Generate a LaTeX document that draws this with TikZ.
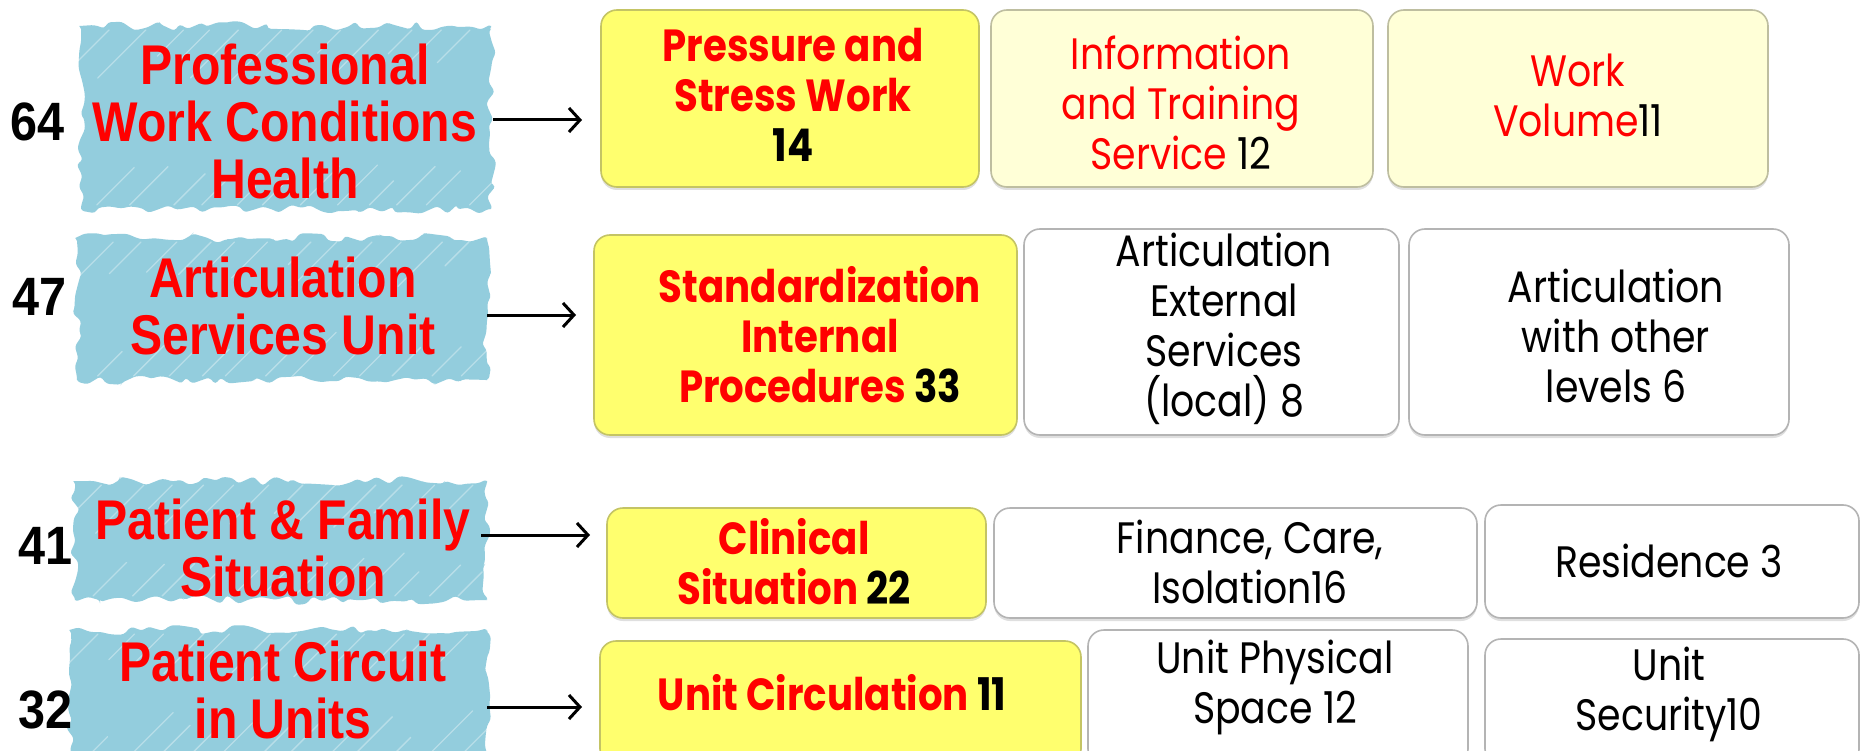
\documentclass[tikz,border=0pt]{standalone}
\usepackage{fontspec}
\usetikzlibrary{arrows.meta,decorations.pathmorphing,shadows}
\newfontfamily\blobfont{Liberation Sans}[FakeStretch=0.86]
\newfontfamily\numfont{Liberation Sans}[FakeStretch=0.9]
\newfontfamily\boxfont{Poppins}[FakeStretch=0.86]
\definecolor{blobblue}{RGB}{147,205,221}
\definecolor{ybright}{RGB}{255,255,110}
\definecolor{yborder}{RGB}{196,196,100}
\definecolor{ylight}{RGB}{255,255,215}
\definecolor{ylborder}{RGB}{190,190,160}
\definecolor{wborder}{RGB}{180,180,180}
\definecolor{txtred}{RGB}{255,0,0}
\newcommand{\blk}[1]{\textcolor{black}{#1}}
\begin{document}
\begin{tikzpicture}[x=1pt,y=-1pt,
  basebox/.style={rectangle, rounded corners=16pt, inner sep=0pt, outer sep=0pt, line width=1.6pt,
     drop shadow={shadow xshift=0pt, shadow yshift=-3pt, opacity=0.25}},
  ybox/.style={basebox, fill=ybright, draw=yborder},
  lybox/.style={basebox, fill=ylight, draw=ylborder},
  wbox/.style={basebox, fill=white, draw=wborder},
  blobtxt/.style={align=center, text=txtred, font=\blobfont\bfseries\fontsize{56}{57}\selectfont, inner sep=0pt},
  numtxt/.style={font=\numfont\bfseries\fontsize{54}{57}\selectfont, inner sep=0pt},
  btxt/.style={align=center, font=\boxfont\fontsize{44}{50}\selectfont, inner sep=0pt},
  rbtxt/.style={btxt, text=txtred},
  bbtxt/.style={align=center, text=txtred, font=\boxfont\bfseries\fontsize{45}{50}\selectfont, inner sep=0pt},
  arr/.style={line width=3pt, -{Straight Barb[length=11pt,width=24pt,line width=3pt]}},
  blobpath/.style={fill=blobblue, decorate, decoration={random steps, segment length=9pt, amplitude=5pt}, rounded corners=3pt},
  streak/.style={white, opacity=0.35, line width=1.3pt, line cap=round}
]
\useasboundingbox (0,0) rectangle (1865,751);
\fill[white] (0,0) rectangle (1865,751);

% ---------- blobs ----------
\pgfmathsetseed{11}
\path[blobpath] (81,26) rectangle (491,209);
\path[blobpath] (77,238) rectangle (487,380);
\path[blobpath] (75,481) rectangle (487,600);
\path[blobpath] (71,630) rectangle (487,760);
\foreach \ya/\yb/\xa/\xb in {26/209/81/491, 238/380/77/487, 481/600/75/487, 630/760/71/487} {
  \foreach \k in {0,...,11} {
    \pgfmathsetmacro{\xx}{\xa+25+\k*33+rnd*12}
    \pgfmathsetmacro{\ll}{22+rnd*30}
    \draw[streak] (\xx,\ya+4) -- ++(-\ll,\ll);
    \pgfmathsetmacro{\xz}{\xa+15+\k*33+rnd*12}
    \pgfmathsetmacro{\lz}{18+rnd*28}
    \draw[streak] (\xz,\yb-4) -- ++(\lz,-\lz);
  }
}

% ---------- numbers ----------
\node[numtxt] (n1) at (38,122) {64};
\node[numtxt] (n2) at (40,297) {47};
\node[numtxt] (n3) at (46,546) {41};
\node[numtxt] (n4) at (46,710) {32};

% ---------- blob labels ----------
\node[blobtxt] (l1) at (285,121.5) {Professional\\Work Conditions\\Health};
\node[blobtxt] (l2) at (283,306) {Articulation\\Services Unit};
\node[blobtxt] (l3) at (283,547.5) {Patient \& Family\\Situation};
\node[blobtxt] (l4) at (283,690) {Patient Circuit\\in Units};

% ---------- boxes ----------
\node[ybox,  minimum width=378pt, minimum height=177pt] (p1) at (790,98.5) {};
\node[lybox, minimum width=382pt, minimum height=177pt] (p2) at (1182,98.5) {};
\node[lybox, minimum width=380pt, minimum height=177pt] (p3) at (1578,98.5) {};

\node[ybox,  minimum width=423pt, minimum height=200pt] (q1) at (805.5,335) {};
\node[wbox,  minimum width=375pt, minimum height=206pt] (q2) at (1211.5,332) {};
\node[wbox,  minimum width=380pt, minimum height=206pt] (q3) at (1599,332) {};

\node[ybox,  minimum width=379pt, minimum height=110pt] (r1) at (796.5,563) {};
\node[wbox,  minimum width=483pt, minimum height=110pt] (r2) at (1235.5,563) {};
\node[wbox,  minimum width=374pt, minimum height=113pt] (r3) at (1672,561.5) {};

\node[ybox,  minimum width=481pt, minimum height=124pt] (s1) at (840.5,703) {};
\node[wbox,  minimum width=380pt, minimum height=135pt] (s2) at (1278,697.5) {};
\node[wbox,  minimum width=374pt, minimum height=126pt] (s3) at (1672,702) {};

% ---------- box labels ----------
\node[bbtxt] (t11) at (793,94.5) {Pressure and\\Stress Work\\\blk{14}};
\node[rbtxt] (t12) at (1181,102.5) {Information\\and Training\\Service \blk{12}};
\node[rbtxt] (t13) at (1578,95) {Work\\Volume\blk{11}};

\node[bbtxt] (t21) at (820,335) {Standardization\\Internal\\Procedures \blk{33}};
\node[btxt] (t22) at (1224,328.5) {Articulation\\External\\Services\\(local) 8};
\node[btxt] (t23) at (1616,335.5) {Articulation\\with other\\levels 6};

\node[bbtxt] (t31) at (794,562) {Clinical\\Situation \blk{22}};
\node[btxt] (t32) at (1250,562) {Finance, Care,\\Isolation16};
\node[btxt] (t33) at (1669,561) {Residence 3};

\node[bbtxt] (t41) at (832,693) {Unit Circulation \blk{11}};
\node[btxt] (t42) at (1275,687) {Unit Physical\\Space 12};
\node[btxt] (t43) at (1669,694.5) {Unit\\Security10};

% ---------- arrows ----------
\coordinate (a1s) at (493,120); \coordinate (a1e) at (582,120);
\coordinate (a2s) at (487,315); \coordinate (a2e) at (576,315);
\coordinate (a3s) at (481,535); \coordinate (a3e) at (590,535);
\coordinate (a4s) at (487,707); \coordinate (a4e) at (582,707);
\draw[arr] (a1s) -- (a1e);
\draw[arr] (a2s) -- (a2e);
\draw[arr] (a3s) -- (a3e);
\draw[arr] (a4s) -- (a4e);
\end{tikzpicture}
\end{document}
